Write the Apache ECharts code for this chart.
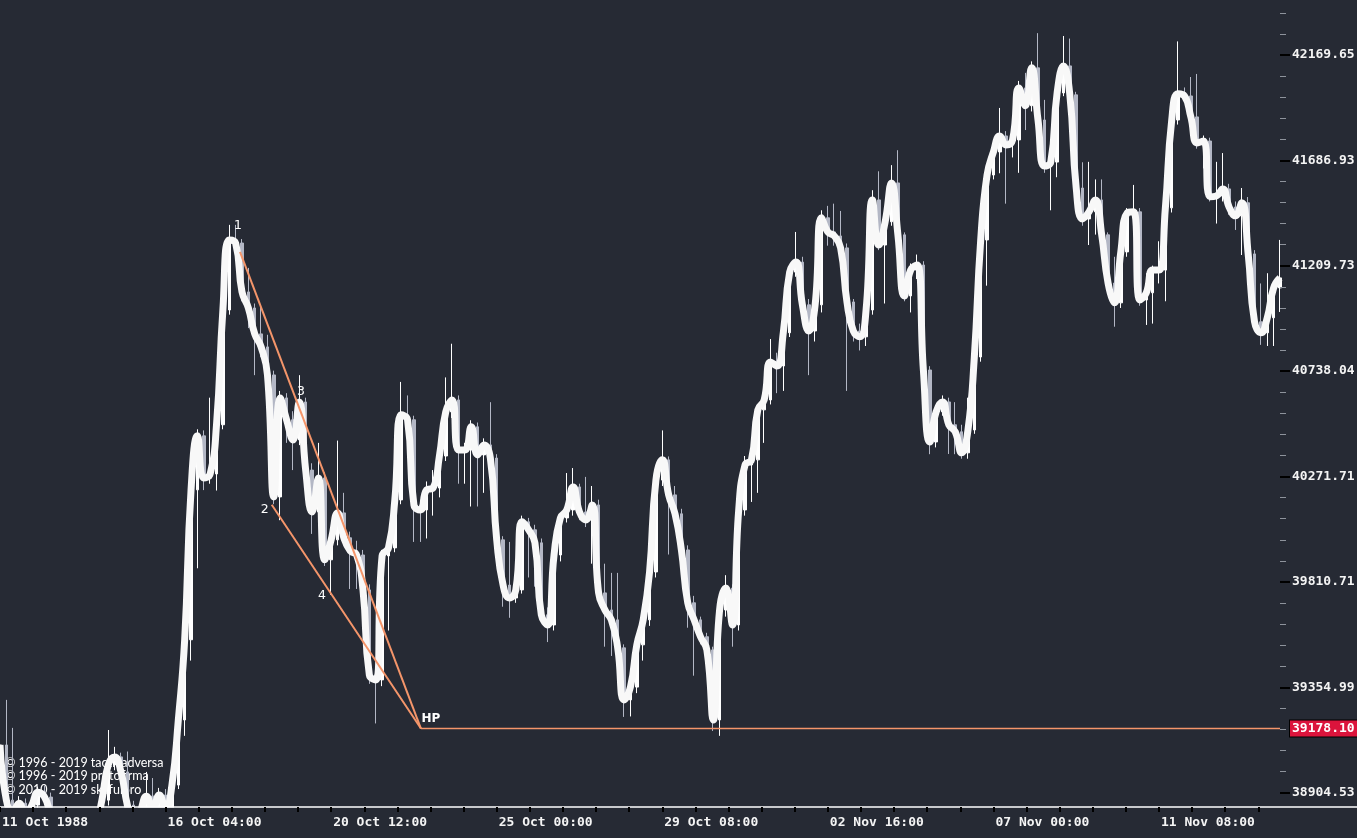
<!DOCTYPE html>
<html>
<head>
<meta charset="utf-8">
<script src="https://cdn.jsdelivr.net/npm/echarts@6.0.0/dist/echarts.min.js"></script>
<style>
html,body{margin:0;padding:0;background:#262a34;}
#chart{width:1357px;height:838px;}
</style>
</head>
<body>
<div id="chart"></div>
<script>
// ---------- data ----------
const yTickLabels = ['38904.53','39354.99','39810.71','40271.71','40738.04','41209.73','41686.93','42169.65'];
const xTickLabels = ['11 Oct 1988','16 Oct 04:00','20 Oct 12:00','25 Oct 00:00','29 Oct 08:00','02 Nov 16:00','07 Nov 00:00','11 Nov 08:00'];

const opens = [
38950,39108,38873,38822,38860,38809,38852,38907,38886,38809,
38745,38724,38724,38745,38724,38745,38766,38873,39023,39057,
38993,38852,38766,38822,38890,38839,38895,38839,38937,39215,
39560,40213,40451,40265,40283,40500,41011,41326,41312,41092,
41020,40904,40846,40721,40182,40619,40522,40433,40601,40300,
40116,40265,39907,39994,40112,40003,39946,39928,39776,39408,
39387,39924,39959,40169,40544,40522,40147,40125,40213,40221,
40362,40557,40610,40389,40389,40491,40367,40411,40353,39994,
39797,39741,39776,40073,40038,39981,39668,39624,39928,40090,
40125,40226,40116,40081,40147,39763,39689,39646,39525,39301,
39356,39538,39646,39854,40256,40345,40191,40108,39950,39720,
39646,39573,39516,39215,39689,39784,39624,40125,40323,40345,
40566,40610,40779,40761,40909,41181,41226,41034,40917,41034,
41426,41362,41344,41290,41047,40917,40891,41011,41507,41303,
41408,41584,41349,41074,41190,41213,40743,40424,40557,40601,
40500,40469,40376,40477,40801,41326,41620,41725,41798,41757,
41780,42018,41936,42110,41871,41661,41679,41995,42119,41986,
41561,41421,41453,41507,41349,41132,41043,41272,41448,41453,
41056,41088,41190,41190,41471,41871,41991,41981,41885,41766,
41775,41521,41525,41557,41475,41435,41494,41263,40958,40909,
40976,41110];

const closes = [
39108,38873,38822,38860,38809,38852,38907,38886,38809,38745,
38724,38724,38745,38724,38745,38766,38873,39023,39057,38993,
38852,38766,38822,38890,38839,38895,38839,38937,39215,39560,
40213,40451,40265,40283,40500,41011,41326,41312,41092,41020,
40904,40846,40721,40182,40619,40522,40433,40601,40300,40116,
40265,39907,39994,40112,40003,39946,39928,39776,39408,39387,
39924,39959,40169,40544,40522,40147,40125,40213,40221,40362,
40557,40610,40389,40389,40491,40367,40411,40353,39994,39797,
39741,39776,40073,40038,39981,39668,39624,39928,40090,40125,
40226,40116,40081,40147,39763,39689,39646,39525,39301,39356,
39538,39646,39854,40256,40345,40191,40108,39950,39720,39646,
39573,39516,39215,39689,39784,39624,40125,40323,40345,40566,
40610,40779,40761,40909,41181,41226,41034,40917,41034,41426,
41362,41344,41290,41047,40917,40891,41011,41507,41303,41408,
41584,41349,41074,41190,41213,40743,40424,40557,40601,40500,
40469,40376,40477,40801,41326,41620,41725,41798,41757,41780,
42018,41936,42110,41871,41661,41679,41995,42119,41986,41561,
41421,41453,41507,41349,41132,41043,41272,41448,41453,41056,
41088,41190,41190,41471,41871,41991,41981,41885,41766,41775,
41521,41525,41557,41475,41435,41494,41263,40958,40909,40976,
41110,41155];

const highs = [
39140,39301,39181,38890,38880,38880,38930,38935,38905,38830,
38770,38750,38770,38770,38770,38800,38900,39172,39100,39075,
39080,38870,38850,38993,38967,38925,38920,38970,39240,39600,
40250,40480,40475,40620,40530,41040,41394,41394,41330,41200,
41040,41030,40900,40740,40650,40640,40560,40720,40620,40330,
40420,40290,40020,40430,40200,40030,39990,39950,39800,39440,
39950,39980,40200,40690,40630,40540,40170,40250,40300,40400,
40710,40860,40630,40420,40520,40510,40440,40600,40370,40010,
39985,39800,40100,40090,40060,40000,39700,39960,40110,40287,
40309,40240,40270,40230,40170,39890,39850,39850,39540,39380,
39560,39670,39880,40280,40475,40360,40230,40130,39970,39750,
39660,39590,39530,39720,39840,39800,40150,40362,40370,40590,
40670,40881,40820,40940,41210,41362,41250,41060,41060,41460,
41480,41490,41457,41310,41060,40950,41040,41551,41637,41440,
41665,41733,41360,41220,41260,41230,40760,40580,40630,40620,
40600,40500,40620,40830,41350,41650,41760,41926,41820,41810,
42050,42087,42140,42270,41963,41780,42030,42257,42245,42000,
41678,41680,41600,41600,41360,41250,41290,41470,41575,41470,
41176,41210,41320,41490,41900,42232,42020,42068,42082,41800,
41790,41680,41720,41580,41500,41561,41520,41280,41130,41176,
41140,41326];

const lows = [
38900,38840,38790,38800,38780,38790,38830,38860,38780,38720,
38700,38700,38700,38700,38700,38720,38740,38850,39000,38970,
38830,38740,38740,38800,38810,38820,38810,38820,38920,39147,
39470,39870,40212,40240,40210,40480,40990,41280,41050,40930,
40720,40800,40690,40150,40080,40420,40300,40410,40270,40020,
40090,39880,39755,39970,39970,39780,39780,39697,39370,39200,
39360,39600,39940,40150,40480,39985,39985,40000,40100,40180,
40340,40530,40240,40240,40140,40140,40200,40330,39970,39703,
39655,39720,39760,39830,39790,39640,39550,39600,39900,40070,
40100,40080,40050,39890,39740,39530,39490,39500,39228,39230,
39330,39470,39620,39830,40230,39930,40060,39920,39612,39405,
39540,39480,39168,39147,39660,39530,39600,40100,40160,40200,
40420,40590,40640,40650,40890,41160,41000,40720,40870,41000,
41300,41300,41260,40650,40870,40830,40850,40990,41280,41040,
41390,41320,41050,41000,41150,40700,40370,40400,40540,40371,
40370,40350,40350,40460,40780,41120,41600,41628,41490,41700,
41630,41825,41910,41850,41630,41460,41610,41980,41960,41530,
41390,41303,41350,41320,41100,40936,41020,41250,41420,41030,
40944,40950,41130,41050,41450,41850,41950,41860,41740,41650,
41500,41400,41500,41440,41371,41258,41240,40930,40855,40850,
40850,41002];

// wedge pattern vertices (bar index, price)
const patternNames = ['1','2','3','4','HP'];
const patternIdx   = [37.69, 42.67, 47.1, 51.5, 66.1];
const patternPrice = [41272, 40148, 40566, 39779, 39178.10];
const hpLevelText  = '39178.10';

const copyrightLines = [
  '\u00A9 1996 - 2019 tacticadversa',
  '\u00A9 1996 - 2019 protofirma',
  '\u00A9 2010 - 2019 skilfulpro'
];

// ---------- build ----------
const N = closes.length;
const startMs = Date.UTC(1988, 9, 11, 20, 0);
const pad = n => String(n).padStart(2, '0');
const categories = closes.map((_, i) => {
  const d = new Date(startMs + i * 4 * 3600 * 1000);
  return d.getUTCFullYear() + '-' + pad(d.getUTCMonth() + 1) + '-' + pad(d.getUTCDate()) + ' ' + pad(d.getUTCHours()) + ':00';
});

// price axis: constant ratio between labelled ticks (log scale), expressed in tick steps
const yBase = parseFloat(yTickLabels[0]);
const yTopVal = parseFloat(yTickLabels[yTickLabels.length - 1]);
const yRatio = Math.pow(yTopVal / yBase, 1 / (yTickLabels.length - 1));
const toY = p => Math.log(p / yBase) / Math.log(yRatio);

const yMax = 7.521;
const yMin = yMax - 807 / 105.4;
const yMajor = yTickLabels.map((_, i) => i);
const yMinor = [];
for (let k = 0; k < 38; k++) { if (k % 5 !== 0) yMinor.push(k / 5); }

const X_LABEL_STEP = 26;
const X_TICK_STEP = 5.2;
const xLabelValues = xTickLabels.map((_, i) => i * X_LABEL_STEP);
const xTickValues = [];
for (let k = 0; k * X_TICK_STEP <= N - 1; k++) xTickValues.push(+(k * X_TICK_STEP).toFixed(3));

const candleData = closes.map((c, i) => [toY(opens[i]), toY(c), toY(lows[i]), toY(highs[i])]);
const lineData = closes.map(toY);

const pt = i => [patternIdx[i], toY(patternPrice[i])];
const hpIdx = 4;
const labelOffsets = [[-2, -26], [-7, 5], [1, -18], [-6, 7], [10, -10]];

const axisFont = { fontFamily: 'DejaVu Sans Mono', fontWeight: 'bold', fontSize: 13, color: '#f4f4f4' };
const ORANGE = '#f4956a';
const BG = '#262a34';

const chart = echarts.init(document.getElementById('chart'), null, { renderer: 'canvas' });
chart.setOption({
  backgroundColor: BG,
  animation: false,
  grid: { left: 0, right: 77, top: 0, bottom: 31, containLabel: false, outerBoundsMode: 'none' },
  xAxis: [
    { type: 'category', data: categories, boundaryGap: false, show: false, axisLine: { onZero: false } },
    {
      type: 'value', min: 0, max: N - 1, position: 'bottom', z: 60,
      splitLine: { show: false }, axisLine: { show: false, onZero: false },
      axisTick: { show: true, length: 5, lineStyle: { color: '#000000', width: 2 }, customValues: xTickValues },
      axisLabel: Object.assign({
        show: true, customValues: xLabelValues, align: 'left', margin: 9, padding: [0, 0, 0, 2],
        formatter: v => xTickLabels[Math.round(v / X_LABEL_STEP)] || ''
      }, axisFont)
    }
  ],
  yAxis: [
    {
      type: 'value', position: 'right', min: yMin, max: yMax, z: 60,
      splitLine: { show: false }, axisLine: { show: false, onZero: false },
      axisTick: { show: true, length: 10, lineStyle: { color: '#000000', width: 2 }, customValues: yMajor },
      axisLabel: Object.assign({
        show: true, customValues: yMajor, margin: 12, align: 'left',
        formatter: v => yTickLabels[Math.round(v)] || ''
      }, axisFont)
    },
    {
      type: 'value', position: 'right', min: yMin, max: yMax, z: 59,
      splitLine: { show: false }, axisLine: { show: false, onZero: false },
      axisTick: { show: true, length: 6, lineStyle: { color: '#8e939c', width: 1 }, customValues: yMinor },
      axisLabel: { show: false }
    }
  ],
  graphic: [
    {
      type: 'text', left: 5, top: 756, z: 1,
      style: { text: copyrightLines.join('\n'), fill: '#ffffff', font: '12.5px Lato', lineHeight: 13.5 }
    },
    {
      type: 'rect', z: 50,
      shape: { x: 0, y: 807.5, width: 1280, height: 31 },
      style: { fill: BG }
    },
    {
      type: 'line', z: 55,
      shape: { x1: 0, y1: 807, x2: 1357, y2: 807 },
      style: { stroke: '#ffffff', lineWidth: 1.5 }
    }
  ],
  series: [
    {
      type: 'candlestick', xAxisIndex: 0, yAxisIndex: 0, data: candleData,
      barWidth: 3, z: 2, clip: true,
      itemStyle: { color: '#ffffff', color0: '#b3b7c5', borderColor: '#ffffff', borderColor0: '#b3b7c5', borderWidth: 1 }
    },
    {
      type: 'line', xAxisIndex: 0, yAxisIndex: 0, data: lineData,
      smooth: 0.5, symbol: 'none', z: 3, clip: true,
      lineStyle: { color: '#f8f8f8', width: 7 }
    },
    {
      type: 'line', xAxisIndex: 1, yAxisIndex: 0, symbol: 'none', z: 4,
      data: [pt(0), pt(hpIdx)], lineStyle: { color: ORANGE, width: 2 }
    },
    {
      type: 'line', xAxisIndex: 1, yAxisIndex: 0, symbol: 'none', z: 4,
      data: [pt(1), pt(hpIdx)], lineStyle: { color: ORANGE, width: 2 }
    },
    {
      type: 'line', xAxisIndex: 1, yAxisIndex: 0, symbol: 'none', z: 4,
      data: [pt(hpIdx), [N - 1, toY(patternPrice[hpIdx])]],
      lineStyle: { color: ORANGE, width: 1.5 },
      endLabel: {
        show: true, formatter: hpLevelText, distance: 10,
        backgroundColor: '#dc143c', color: '#ffffff', borderColor: '#000000', borderWidth: 1,
        padding: [2, 3, 1, 2], fontFamily: 'DejaVu Sans Mono', fontWeight: 'bold', fontSize: 13
      }
    },
    {
      type: 'scatter', xAxisIndex: 1, yAxisIndex: 0, symbolSize: 1, z: 5,
      itemStyle: { color: 'rgba(0,0,0,0)', opacity: 1 },
      data: patternNames.map((n, i) => ({
        name: n, value: pt(i),
        label: {
          offset: labelOffsets[i],
          fontWeight: n === 'HP' ? 'bold' : 'normal',
          fontSize: n === 'HP' ? 12 : 12.5
        }
      })),
      label: {
        show: true, position: 'inside', formatter: '{b}', color: '#ffffff', opacity: 1,
        textBorderWidth: 0, textBorderColor: 'transparent', fontFamily: 'DejaVu Sans'
      }
    }
  ]
});
</script>
</body>
</html>
